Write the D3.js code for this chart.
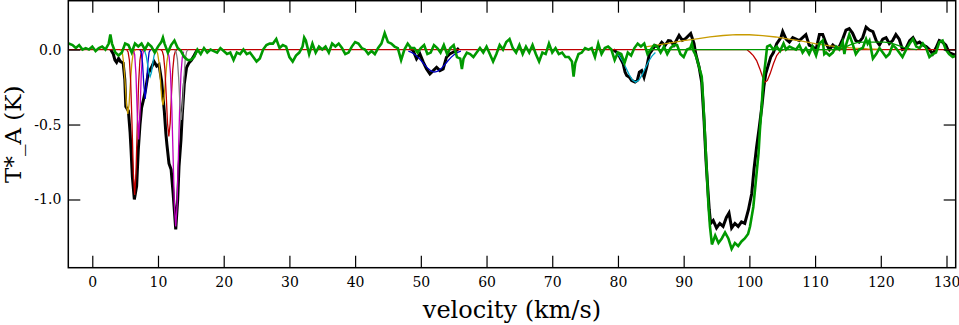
<!DOCTYPE html>
<html>
<head>
<meta charset="utf-8">
<script src="https://cdn.jsdelivr.net/npm/d3@7"></script>
<style>
  body { margin: 0; background: #fff; }
  svg { display: block; }
  .tick text { font-family: "DejaVu Serif", serif; font-size: 14px; fill: #000; }
  .title { font-family: "DejaVu Serif", serif; font-size: 24px; fill: #000; }
</style>
</head>
<body>
<div id="chart"></div>
<script>
// ---- data: [velocity km/s, T*_A K] ----

// residual spectrum (green, thick)
var residual = [[-3.6,0.04],[-3,0.03],[-2.5,0.01],[-2,0.03],[-1.5,0],[-1,0.01],[-0.5,0],[0,0.02],[0.5,-0.01],[1,0.01],[1.5,0.02],[2,0],[2.5,0.04],[2.75,0.1],[3,0.04],[3.5,-0.02],[4,-0.04],[4.5,-0.02],[5,0.04],[5.5,0.03],[6,-0.02],[6.5,0.04],[7,0.02],[7.5,0.04],[8,0],[8.5,0.04],[9,0.02],[9.5,-0.02],[10,0.02],[10.5,0.05],[10.75,0.08],[11,0.04],[11.5,-0.02],[12,0.03],[12.5,0.06],[13,0.01],[13.5,-0.01],[14,-0.05],[14.5,-0.07],[15,-0.07],[15.5,-0.05],[16,0],[16.5,-0.03],[17,0.01],[17.5,-0.02],[18,0],[18.5,-0.01],[19,-0.02],[19.5,0.01],[20,-0.01],[20.5,-0.03],[21,-0.02],[21.5,-0.07],[22,-0.02],[22.5,-0.03],[23,0],[23.5,-0.03],[24,-0.02],[24.5,-0.05],[25,-0.08],[25.5,-0.06],[26,0],[26.5,0.03],[27,0.04],[27.5,0.04],[28,0.07],[28.5,0.01],[29,0.03],[29.5,0.02],[30,-0.05],[30.5,-0.08],[31,-0.04],[31.5,-0.02],[32,0.02],[32.25,0.08],[32.5,0.06],[33,-0.03],[33.5,0.04],[34,-0.02],[34.5,0.02],[35,0],[35.5,0.02],[36,-0.02],[36.5,0.04],[37,0.02],[37.5,0.04],[38,0.01],[38.5,-0.03],[39,-0.02],[39.5,0.02],[40,0.05],[40.5,0.04],[41,0.01],[41.5,0],[42,-0.03],[42.5,-0.01],[43,-0.03],[43.5,0.01],[44,0.04],[44.5,0.11],[45,0.05],[45.5,0.04],[46,0.02],[46.5,0.01],[47,-0.07],[47.5,0],[48,0.04],[48.5,0.01],[49,0.01],[49.5,-0.02],[50,0.01],[50.5,0.03],[51,-0.03],[51.5,-0.02],[52,0.03],[52.5,0.01],[53,-0.02],[53.5,0.03],[54,-0.03],[54.5,0.01],[55,0.03],[55.5,-0.05],[56,-0.06],[56.25,-0.13],[56.5,-0.06],[57,-0.02],[57.5,-0.03],[58,-0.05],[58.5,-0.02],[59,0.01],[59.5,-0.02],[60,0.02],[60.5,-0.03],[61,-0.08],[61.5,-0.03],[62,0.03],[62.5,0],[63,0.05],[63.5,0.07],[64,0.01],[64.5,-0.02],[65,0.03],[65.5,-0.03],[66,0.02],[66.5,-0.02],[67,0.03],[67.5,-0.03],[68,-0.08],[68.5,-0.02],[69,-0.03],[69.5,0.04],[70,-0.02],[70.5,0.01],[71,-0.03],[71.5,-0.02],[72,-0.05],[72.5,-0.05],[73,-0.08],[73.25,-0.18],[73.5,-0.09],[74,-0.03],[74.5,-0.02],[75,0.01],[75.5,0],[76,0.01],[76.5,-0.05],[77,0.04],[77.5,-0.03],[78,0.01],[78.5,0.02],[79,0],[79.5,-0.07],[80,-0.02],[80.5,-0.03],[81,-0.09],[81.5,-0.02],[82,-0.04],[82.5,0.01],[83,0.04],[83.5,0.02],[84,0.04],[84.5,-0.03],[85,0],[85.5,0.03],[86,0.02],[86.5,-0.02],[87,0.02],[87.5,-0.03],[88,0.01],[88.5,0.03],[89,0.03],[89.5,-0.03],[90,-0.05],[90.5,0],[91,0.01],[91.25,0.04],[91.5,-0.01],[91.75,-0.03],[92,-0.06],[92.25,-0.1],[92.5,-0.14],[92.75,-0.18],[93,-0.36],[93.25,-0.58],[93.5,-0.8],[93.76,-1.03],[94,-1.18],[94.3,-1.3],[94.8,-1.24],[95.3,-1.29],[95.8,-1.26],[96.3,-1.22],[96.8,-1.26],[97.3,-1.33],[97.8,-1.29],[98.3,-1.31],[98.8,-1.28],[99.3,-1.26],[99.8,-1.23],[100.1,-1.18],[100.6,-1.05],[101,-0.87],[101.4,-0.69],[101.6,-0.54],[101.9,-0.36],[102.1,-0.21],[102.4,-0.1],[102.7,0.02],[103.15,0.03],[103.65,0],[104.16,0.02],[104.67,-0.01],[105.2,0.04],[105.58,0],[106.09,0.02],[106.6,0.01],[107.1,0],[107.6,0.03],[108.1,-0.02],[108.6,0.01],[109.1,-0.03],[109.6,0.02],[110.15,-0.04],[110.66,0.04],[111.16,0.06],[111.4,-0.03],[111.67,-0.02],[112.18,-0.04],[112.7,-0.02],[113.2,0.02],[113.7,0],[114.2,0.05],[114.46,-0.03],[114.7,0.03],[115.2,0.1],[115.7,0.04],[116.2,-0.03],[116.7,0],[117.25,0.01],[117.76,0.07],[118,0.04],[118.27,0.06],[118.8,-0.06],[119.3,-0.03],[119.8,0.01],[120.3,-0.02],[120.8,-0.05],[121.3,-0.03],[121.8,0.03],[122.3,0.01],[122.8,-0.02],[123.3,-0.05],[123.85,0],[124.4,0.04],[124.9,0.07],[125.4,0.02],[125.9,0.01],[126.4,0.04],[126.9,0.01],[127.4,-0.05],[127.9,-0.03],[128.4,-0.02],[128.9,0.05],[129.4,0.06],[129.9,0],[130.4,-0.03],[130.95,-0.05],[131.5,-0.04]];

// observed spectrum (black, thick) in the three fitted windows
var dataLow = [[2.8,0],[3.2,-0.03],[3.45,-0.07],[3.7,-0.085],[4,-0.06],[4.3,-0.08],[4.7,-0.09],[4.95,-0.2],[5.1,-0.38],[5.5,-0.41],[5.75,-0.55],[5.9,-0.67],[6.1,-0.85],[6.4,-1],[6.75,-0.91],[7,-0.67],[7.26,-0.5],[7.5,-0.39],[7.76,-0.34],[8.1,-0.27],[8.5,-0.16],[9,-0.12],[9.4,-0.08],[9.8,-0.11],[10.15,-0.1],[10.55,-0.21],[10.96,-0.41],[11.2,-0.56],[11.35,-0.63],[11.67,-0.76],[12,-0.8],[12.3,-0.96],[12.7,-1.2],[13,-1],[13.2,-0.78],[13.5,-0.6],[13.7,-0.43],[14,-0.23],[14.35,-0.12],[14.7,-0.09],[15.1,-0.07],[15.5,-0.04],[16,0]];
var dataMid = [[48.3,0.01],[48.84,-0.007],[49.35,-0.062],[49.86,-0.029],[50.37,-0.084],[50.87,-0.129],[51.38,-0.162],[51.89,-0.14],[52.4,-0.118],[52.9,-0.14],[53.4,-0.129],[53.9,-0.051],[54.4,-0.029],[54.9,-0.018],[55.4,-0.007],[55.8,0.01]];
var dataHigh = [[79.3,0],[79.8,-0.018],[80.3,-0.051],[80.8,-0.095],[81.08,-0.15],[81.33,-0.173],[81.74,-0.184],[82.09,-0.206],[82.6,-0.217],[82.95,-0.206],[83.26,-0.151],[83.61,-0.14],[83.97,-0.184],[84.37,-0.118],[84.78,-0.029],[85.14,-0.007],[85.64,0.027],[86.15,0.016],[86.66,0.049],[87.17,0.027],[87.67,0.06],[88,0.058],[88.5,0.029],[89.3,0.095],[89.8,0.062],[90.3,0.073],[91.07,0.107],[91.58,0.04],[91.83,-0.027],[92.34,-0.115],[92.75,-0.22],[93.1,-0.47],[93.4,-0.74],[93.66,-0.92],[93.9,-1.07],[94.1,-1.16],[94.5,-1.14],[95,-1.19],[95.5,-1.16],[96,-1.18],[96.5,-1.12],[96.9,-1.09],[97.3,-1.19],[97.8,-1.16],[98.3,-1.18],[98.8,-1.15],[99.3,-1.16],[99.85,-1.07],[100.36,-0.96],[100.7,-0.8],[101.1,-0.65],[101.5,-0.52],[101.9,-0.38],[102.2,-0.25],[102.5,-0.16],[102.9,-0.1],[103.25,-0.05],[103.66,-0.02],[104.16,0.04],[104.8,0.08],[105.07,0.12],[105.58,0.07],[106.09,0.05],[106.6,0.08],[107.1,0.07],[107.6,0.06],[108.1,0.08],[108.6,0.1],[109.1,0.03],[109.6,0.02],[110.15,0],[110.66,0.1],[111.16,0.1],[111.67,0.04],[112.18,0],[112.7,0.03],[113.2,0.01],[113.7,0.02],[114.2,0.07],[114.7,0.13],[115.2,0.14],[115.7,0.11],[116.2,0.06],[116.7,0.05],[117.25,0.08],[117.76,0.15],[118.27,0.13],[118.8,0.12],[119.3,0.06],[119.8,0.03],[120.3,0.07],[120.8,0.08],[121.3,0.04],[121.8,0.06],[122.3,0.1],[122.8,0.07],[123.3,0],[123.85,0.01],[124.4,0.06],[124.9,0.08],[125.4,0.04],[125.9,0.05],[126.4,0.03],[126.9,0.02],[127.4,0],[127.9,-0.03],[128.4,0.01],[128.9,0.06],[129.4,0.05],[129.9,0.03],[130.4,-0.02],[130.95,-0.03],[131.5,-0.04]];

// baseline / wide-window component (dark red)
var baseRed = [[-3.65,0],[99.6,0],[100.1,-0.018],[100.6,-0.04],[101.1,-0.073],[101.6,-0.129],[102.03,-0.184],[102.4,-0.218],[102.74,-0.206],[103.15,-0.162],[103.66,-0.095],[104.16,-0.04],[104.67,-0.011],[105.2,0],[131.4,0]];

// gaussian components of the fits
var compGold1 = [[4.2,-0.001],[4.4,-0.007],[4.6,-0.031],[4.8,-0.099],[5,-0.224],[5.2,-0.365],[5.4,-0.43],[5.6,-0.365],[5.8,-0.224],[6,-0.099],[6.2,-0.031],[6.4,-0.007],[6.6,-0.001]];
var compRed1 = [[5.25,-0.003],[5.45,-0.016],[5.65,-0.071],[5.85,-0.223],[6.05,-0.504],[6.25,-0.824],[6.45,-0.97],[6.65,-0.824],[6.85,-0.504],[7.05,-0.223],[7.25,-0.071],[7.45,-0.016],[7.65,-0.003]];
var compMag1 = [[6.25,-0.004],[6.45,-0.034],[6.65,-0.167],[6.85,-0.436],[7.05,-0.6],[7.25,-0.436],[7.45,-0.167],[7.65,-0.034],[7.85,-0.004]];
var compBlue1 = [[7.25,-0.002],[7.45,-0.018],[7.65,-0.092],[7.85,-0.24],[8.05,-0.33],[8.25,-0.24],[8.45,-0.092],[8.65,-0.018],[8.85,-0.002]];
var compCyan1 = [[7.8,-0.003],[8,-0.013],[8.2,-0.041],[8.4,-0.094],[8.6,-0.153],[8.8,-0.18],[9,-0.153],[9.2,-0.094],[9.4,-0.041],[9.6,-0.013],[9.8,-0.003]];
var compGold2 = [[9.55,-0.001],[9.75,-0.006],[9.95,-0.027],[10.15,-0.085],[10.35,-0.192],[10.55,-0.314],[10.75,-0.37],[10.95,-0.314],[11.15,-0.192],[11.35,-0.085],[11.55,-0.027],[11.75,-0.006],[11.95,-0.001]];
var compRed2 = [[10.45,-0.002],[10.65,-0.01],[10.85,-0.042],[11.05,-0.133],[11.25,-0.302],[11.45,-0.492],[11.65,-0.58],[11.85,-0.492],[12.05,-0.302],[12.25,-0.133],[12.45,-0.042],[12.65,-0.01],[12.85,-0.002]];
var compMag2 = [[11.5,-0.013],[11.7,-0.052],[11.9,-0.159],[12.1,-0.384],[12.3,-0.716],[12.5,-1.041],[12.7,-1.18],[12.9,-1.041],[13.1,-0.716],[13.3,-0.384],[13.5,-0.159],[13.7,-0.052],[13.9,-0.013]];
var compGray = [[12.55,-0.002],[12.75,-0.014],[12.95,-0.063],[13.15,-0.193],[13.35,-0.376],[13.55,-0.47],[13.75,-0.376],[13.95,-0.193],[14.15,-0.063],[14.35,-0.014],[14.55,-0.002]];
var compBlue2 = [[48.1,-0.01],[48.6,-0.019],[49.1,-0.033],[49.6,-0.052],[50.1,-0.076],[50.6,-0.103],[51.1,-0.127],[51.6,-0.144],[52.1,-0.15],[52.6,-0.144],[53.1,-0.127],[53.6,-0.103],[54.1,-0.076],[54.6,-0.052],[55.1,-0.033],[55.6,-0.019],[56.1,-0.01]];
var compCyan2 = [[79.7,-0.02],[80.2,-0.042],[80.7,-0.076],[81.2,-0.12],[81.7,-0.167],[82.2,-0.203],[82.7,-0.217],[83.2,-0.203],[83.7,-0.167],[84.2,-0.12],[84.7,-0.076],[85.2,-0.042],[85.7,-0.02]];
var compOlive = [[84.2,0.018],[86,0.03],[88,0.045],[90,0.06],[92,0.072],[94,0.085],[96,0.094],[98,0.1],[100,0.099],[102,0.093],[104,0.084],[106,0.07],[108,0.056],[110,0.04],[112,0.027],[114,0.016],[116,0.009],[118,0.004],[120,0.001]];
var compGreen = [[84.2,0],[113.7,0],[114.5,0.015],[115.5,0.035],[116.5,0.048],[117.5,0.05],[120.5,0.05],[121.5,0.045],[122.5,0.03],[123.5,0.015],[124.5,0.005],[125.5,0]];

var xTicks = d3.range(0, 131, 10);
var yTicks = [0, -0.5, -1.0];

// ---- layout ----
var width = 959, height = 325;
var mLeft = 68.3, mRight = 955.7, mTop = 0.7, mBottom = 267.7;

var x = d3.scaleLinear().domain([-3.65, 131.4]).range([mLeft, mRight]);
var y = d3.scaleLinear().domain([-1.455, 0.326]).range([mBottom, mTop]);

var svg = d3.select('#chart').append('svg')
    .attr('width', width)
    .attr('height', height);

svg.append('defs').append('clipPath').attr('id', 'plotclip')
    .append('rect')
    .attr('x', mLeft).attr('y', mTop)
    .attr('width', mRight - mLeft).attr('height', mBottom - mTop);

var line = d3.line()
    .x(function(d) { return x(d[0]); })
    .y(function(d) { return y(d[1]); });

var plot = svg.append('g').attr('clip-path', 'url(#plotclip)');

function draw(data, color, w) {
    plot.append('path')
        .datum(data)
        .attr('d', line)
        .attr('fill', 'none')
        .attr('stroke', color)
        .attr('stroke-width', w)
        .attr('stroke-linejoin', 'miter');
}

// observed data underneath
draw(dataLow, '#000', 3);
draw(dataMid, '#000', 3);
draw(dataHigh, '#000', 3);

// baseline and components
draw(baseRed, '#c00000', 1.3);
draw(compOlive, '#c89b00', 1.3);
draw(compGold1, '#c89b00', 1.3);
draw(compGold2, '#c89b00', 1.3);
draw(compRed1, '#c00000', 1.3);
draw(compRed2, '#c00000', 1.3);
draw(compMag1, '#c000c0', 1.3);
draw(compMag2, '#c000c0', 1.3);
draw(compBlue1, '#0000c8', 1.3);
draw(compBlue2, '#0000c8', 1.3);
draw(compCyan1, '#00a8c8', 1.3);
draw(compCyan2, '#00a8c8', 1.3);
draw(compGray, '#808080', 1.3);
draw(compGreen, '#009900', 1.3);

// residuals on top
draw(residual, '#009900', 2.6);

// ---- axes ----
var fmt = function(d) { return d3.format('.1f')(d).replace('\u2212', '-'); };

svg.append('g')
    .attr('transform', 'translate(0,' + mBottom + ')')
    .call(d3.axisBottom(x).tickValues(xTicks).tickSize(-12).tickPadding(9));

svg.append('g')
    .attr('transform', 'translate(0,' + mTop + ')')
    .call(d3.axisTop(x).tickValues(xTicks).tickSize(-12).tickFormat(''));

svg.append('g')
    .attr('transform', 'translate(' + mLeft + ',0)')
    .call(d3.axisLeft(y).tickValues(yTicks).tickSize(-12).tickPadding(7).tickFormat(fmt));

svg.append('g')
    .attr('transform', 'translate(' + mRight + ',0)')
    .call(d3.axisRight(y).tickValues(yTicks).tickSize(-12).tickFormat(''));

svg.selectAll('.domain').remove();
svg.selectAll('.tick line').attr('stroke', '#000').attr('stroke-width', 1.2);

svg.append('rect')
    .attr('x', mLeft).attr('y', mTop)
    .attr('width', mRight - mLeft).attr('height', mBottom - mTop)
    .attr('fill', 'none')
    .attr('stroke', '#000')
    .attr('stroke-width', 1.5);

// titles
svg.append('text')
    .attr('class', 'title')
    .attr('x', (mLeft + mRight) / 2)
    .attr('y', 318)
    .attr('text-anchor', 'middle')
    .text('velocity (km/s)');

svg.append('text')
    .attr('class', 'title')
    .style('font-size', '23px')
    .attr('transform', 'translate(21,' + ((mTop + mBottom) / 2) + ') rotate(-90)')
    .attr('text-anchor', 'middle')
    .text('T*_A (K)');
</script>
</body>
</html>
